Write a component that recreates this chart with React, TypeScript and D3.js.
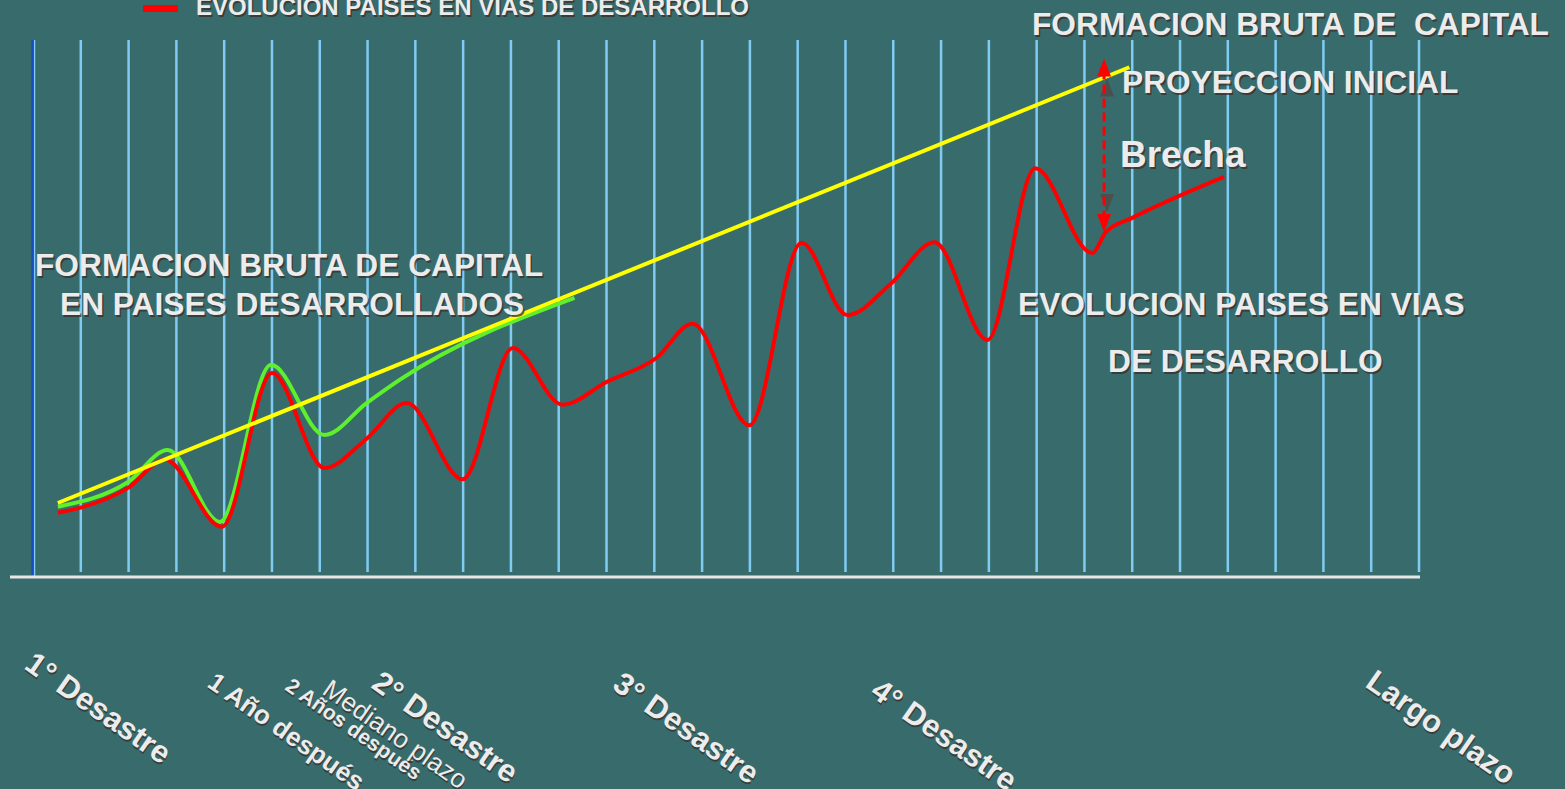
import React, { useEffect, useRef } from 'react';
import * as d3 from 'd3';

// periodos (indice de linea vertical) y nivel relativo (0-100)
const periodCount = 30;
const redSeries: [number, number][] = [
  [0.52, 11.9], [0.98, 12.8], [1.99, 16.5], [2.76, 21.7], [3.95, 9.3], [5.0, 37.8],
  [6.1, 20.2], [6.98, 25.6], [7.82, 32.2], [8.99, 18.1], [10.04, 42.4], [11.08, 31.9],
  [12.0, 36.1], [13.05, 40.6], [13.8, 46.9], [14.99, 28.1], [16.08, 61.9], [17.04, 48.5],
  [17.96, 54.4], [18.86, 62.0], [19.97, 43.9], [20.97, 75.7], [22.16, 60.0], [22.45, 63.9],
  [23.0, 66.5], [24.92, 74.1],
];
const greenSeries: [number, number][] = [
  [0.52, 13.0], [1.99, 17.6], [2.82, 23.5], [3.91, 10.2], [4.98, 39.3], [6.1, 26.3],
  [6.98, 32.2], [7.67, 36.5], [11.33, 51.7],
];
const yellowSeries: [number, number][] = [[0.52, 13.7], [22.94, 94.4]];
const gapX = 22.41;
const gapRange: [number, number] = [96, 63.9];

const W = 1565;
const H = 789;
const TEXT = '#ececec';
const SHADOW = '#3a2e28';
const ANGLE = 35;

const App: React.FC = () => {
  const svgRef = useRef<SVGSVGElement>(null);

  useEffect(() => {
    if (!svgRef.current) { return; }
    const svg = d3.select(svgRef.current);
    svg.selectAll('*').remove();

    const x = d3.scaleLinear().domain([0, periodCount - 1]).range([33, 1419]);
    const y = d3.scaleLinear().domain([0, 100]).range([577, 37]);

    svg.append('rect').attr('width', W).attr('height', H).attr('fill', '#386c6c');

    // texto con sombra
    const label = (
      txt: string, tx: number, ty: number, size: number,
      opts: { weight?: string; rotate?: number } = {}
    ) => {
      const g = svg.append('g')
        .attr('transform', `translate(${tx},${ty}) rotate(${opts.rotate || 0})`);
      [[1.5, SHADOW], [0, TEXT]].forEach(([o, c]) => {
        g.append('text')
          .attr('x', o as number).attr('y', o as number)
          .attr('font-family', '"Liberation Sans", Arial, sans-serif')
          .attr('font-weight', opts.weight || 'bold')
          .attr('font-size', size)
          .attr('fill', c as string)
          .attr('opacity', o ? 0.75 : 1)
          .style('white-space', 'pre')
          .text(txt);
      });
    };

    // leyenda
    svg.append('rect').attr('x', 143).attr('y', 5).attr('width', 35).attr('height', 7).attr('fill', '#ff0000');
    label('EVOLUCION PAISES EN VIAS DE DESARROLLO', 196, 15, 24);

    // lineas verticales
    svg.append('g').selectAll('line')
      .data(d3.range(periodCount))
      .enter()
      .append('line')
      .attr('x1', d => x(d) + (d === 0 ? 1.5 : 0))
      .attr('x2', d => x(d) + (d === 0 ? 1.5 : 0))
      .attr('y1', 40)
      .attr('y2', d => (d === 0 ? 577 : 572))
      .attr('stroke', '#80cbf2')
      .attr('stroke-width', d => (d === 0 ? 1.5 : 2.5));
    svg.append('line')
      .attr('x1', x(0) - 0.5).attr('x2', x(0) - 0.5)
      .attr('y1', 40).attr('y2', 575)
      .attr('stroke', '#1a4cc0').attr('stroke-width', 2.5);

    // linea base
    svg.append('line')
      .attr('x1', 10).attr('x2', 1420)
      .attr('y1', 577).attr('y2', 577)
      .attr('stroke', '#e6e6e6').attr('stroke-width', 3);

    const line = d3.line<[number, number]>()
      .x(d => x(d[0]))
      .y(d => y(d[1]))
      .curve(d3.curveMonotoneX);

    svg.append('path').attr('d', line(greenSeries)).attr('fill', 'none')
      .attr('stroke', '#5ef02c').attr('stroke-width', 4);
    svg.append('path').attr('d', line(redSeries)).attr('fill', 'none')
      .attr('stroke', '#ff0000').attr('stroke-width', 4);
    svg.append('path').attr('d', d3.line<[number, number]>().x(d => x(d[0])).y(d => y(d[1]))(yellowSeries))
      .attr('fill', 'none').attr('stroke', '#ffff00').attr('stroke-width', 4);

    // brecha
    const ax = x(gapX);
    const top = y(gapRange[0]);
    const bot = y(gapRange[1]);
    const head = (tipY: number, dir: number, fill: string, dx = 0) => {
      svg.append('path')
        .attr('d', `M${ax + dx},${tipY} L${ax + dx - 7},${tipY + dir * 18} L${ax + dx + 7},${tipY + dir * 18} Z`)
        .attr('fill', fill);
    };
    head(top + 20, 1, '#4a4f4f', 3);
    head(bot - 20, -1, '#4a4f4f', 3);
    svg.append('line')
      .attr('x1', ax).attr('x2', ax)
      .attr('y1', top + 12).attr('y2', bot - 12)
      .attr('stroke', '#ff0000').attr('stroke-width', 3)
      .attr('stroke-dasharray', '9,5');
    head(top, 1, '#ff0000');
    head(bot, -1, '#ff0000');

    // anotaciones
    label('FORMACION BRUTA DE  CAPITAL', 1032, 35, 31.7);
    label('PROYECCION INICIAL', 1122, 93, 31.7);
    label('Brecha', 1120, 167, 37);
    label('FORMACION BRUTA DE CAPITAL', 35, 276, 31.7);
    label('EN PAISES DESARROLLADOS', 60, 315, 31.7);
    label('EVOLUCION PAISES EN VIAS', 1018, 315, 31.7);
    label('DE DESARROLLO', 1108, 372, 31.7);

    // etiquetas del eje
    label('1° Desastre', 23, 668, 31, { rotate: ANGLE });
    label('1 Año después', 206, 686, 26, { rotate: ANGLE });
    label('2 Años después', 284, 689, 21, { rotate: ANGLE });
    label('Mediano plazo', 321, 693, 26, { rotate: ANGLE, weight: 'normal' });
    label('2° Desastre', 370, 687, 31, { rotate: ANGLE });
    label('3° Desastre', 611, 688, 31, { rotate: ANGLE });
    label('4° Desastre', 869, 695, 31, { rotate: ANGLE });
    label('Largo plazo', 1364, 686, 31, { rotate: ANGLE });
  }, []);

  return (
    <svg
      ref={svgRef}
      width={W}
      height={H}
      style={{ position: 'absolute', left: 0, top: 0, display: 'block' }}
    />
  );
};

export default App;
